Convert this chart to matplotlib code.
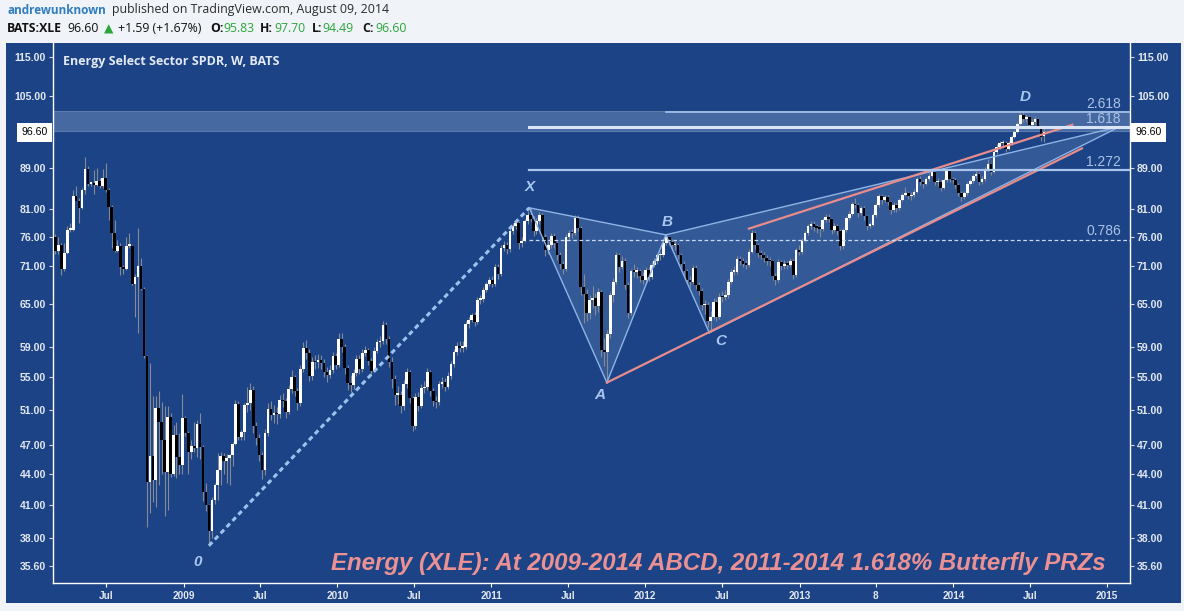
import datetime as dt
import matplotlib
matplotlib.use("Agg")
import matplotlib.pyplot as plt
import matplotlib.dates as mdates
from matplotlib.patches import Rectangle, Polygon
from matplotlib.ticker import FixedLocator, NullLocator, FuncFormatter
from matplotlib.transforms import blended_transform_factory

# weekly bars, first bar = week of 3 Mar 2008
first_week = "2008-03-03"
first_open = 75.9
last_open = 95.83

closes_2008 = [73.5, 74.5, 70.5, 73.1, 77.2, 77.2, 83.4, 82.5, 81.1, 84.6,
               88.8, 85.8, 85.8, 85.6, 86.4, 85.4, 87.0, 84.6, 81.4, 76.7,
               73.5, 74.3, 70.8, 70.5, 74.4, 74.4, 68.2, 69.3, 71.0, 67.4,
               57.7, 43.2, 45.9, 43.4, 51.2, 49.6, 47.6, 44.2, 50.2, 44.0,
               48.1, 45.8, 44.9, 50.1]
highs_2008 = [76.5, 76.0, 74.8, 74.8, 77.9, 78.4, 84.6, 85.3, 83.0, 85.0,
              91.3, 89.5, 86.0, 88.6, 89.0, 87.0, 88.8, 90.0, 84.9, 81.7,
              79.0, 75.4, 74.9, 71.2, 76.0, 76.6, 74.6, 69.8, 77.6, 72.3,
              67.6, 57.9, 56.8, 52.6, 52.6, 53.2, 51.9, 51.4, 51.4, 50.6,
              49.2, 49.6, 48.3, 52.9]
lows_2008 = [73.0, 73.0, 69.5, 70.2, 73.0, 76.8, 77.0, 82.7, 78.4, 81.0,
             83.8, 85.3, 85.3, 83.8, 85.3, 85.0, 85.0, 84.3, 79.0, 74.0,
             73.3, 73.3, 69.5, 69.8, 70.4, 74.0, 68.0, 63.2, 60.8, 67.2,
             57.5, 38.9, 40.2, 41.2, 40.8, 42.9, 44.0, 39.9, 40.5, 43.7,
             43.8, 43.6, 44.0, 44.0]

closes_2009 = [48.4, 46.3, 46.9, 46.7, 49.4, 46.8, 42.2, 41.0, 38.6, 41.4,
               42.9, 44.4, 45.9, 45.3, 45.6, 46.0, 47.1, 51.7, 47.9, 48.5,
               51.6, 51.8, 53.4, 49.1, 47.8, 46.0, 44.4, 48.3, 51.1, 50.4,
               50.6, 50.5, 52.2, 52.0, 50.8, 53.5, 55.0, 53.3, 51.8, 56.0,
               58.8, 58.1, 55.1, 57.0, 56.9, 57.2, 56.8, 55.7, 55.3, 55.9,
               57.7, 56.6]
highs_2009 = [50.3, 48.6, 47.6, 49.6, 49.8, 50.6, 47.0, 43.1, 41.1, 41.7,
              43.1, 46.2, 46.3, 46.2, 46.1, 46.1, 47.4, 52.2, 52.0, 48.7,
              51.8, 53.8, 54.3, 53.9, 49.6, 48.2, 46.3, 48.8, 51.8, 52.0,
              51.6, 51.3, 52.8, 53.0, 52.4, 54.0, 55.9, 55.3, 53.6, 56.5,
              59.6, 59.9, 58.6, 57.6, 57.9, 58.0, 57.8, 57.3, 56.3, 56.6,
              58.2, 58.1]
lows_2009 = [48.0, 44.0, 45.5, 46.3, 45.8, 45.5, 41.3, 40.4, 37.3, 38.0,
             41.1, 41.4, 42.9, 44.0, 43.1, 42.9, 44.8, 47.0, 47.6, 47.6,
             47.6, 50.7, 51.0, 48.3, 47.0, 45.3, 43.5, 43.9, 48.0, 49.8,
             49.5, 49.4, 50.0, 51.3, 50.1, 50.5, 53.0, 52.6, 51.0, 51.4,
             55.6, 57.3, 54.5, 54.6, 56.0, 56.2, 56.0, 55.0, 54.4, 54.9,
             55.5, 56.0]

closes_2010 = [60.1, 59.0, 56.1, 54.3, 54.0, 55.5, 57.3, 56.0, 58.1, 58.5,
               57.1, 55.8, 58.4, 59.6, 59.7, 62.0, 60.0, 57.0, 54.8, 52.8,
               52.8, 51.4, 54.1, 55.6, 52.4, 49.1, 52.5, 51.5, 53.6, 53.8,
               55.6, 53.2, 52.1, 51.9, 54.1, 54.4, 53.8, 55.1, 56.7, 58.2,
               59.1, 58.8, 59.0, 62.1, 62.7, 63.4, 62.4, 65.7, 65.8, 67.2,
               68.1, 68.8]
highs_2010 = [60.8, 60.9, 59.4, 56.6, 55.2, 56.0, 57.8, 57.9, 58.6, 59.1,
              58.8, 57.5, 58.9, 60.1, 60.4, 62.6, 62.4, 60.4, 57.6, 55.3,
              53.9, 53.3, 54.6, 56.1, 55.9, 52.7, 53.0, 53.1, 54.1, 54.5,
              56.1, 55.9, 53.6, 52.7, 54.5, 55.0, 54.9, 55.6, 57.1, 58.6,
              59.6, 59.7, 59.8, 62.5, 63.2, 63.8, 63.9, 66.1, 66.4, 67.7,
              68.5, 69.3]
lows_2010 = [56.3, 58.3, 55.4, 53.4, 53.1, 53.5, 55.1, 55.4, 55.7, 57.7,
             56.6, 55.2, 55.6, 58.1, 59.0, 59.4, 59.4, 56.3, 53.6, 51.6,
             51.7, 50.6, 51.0, 53.6, 51.8, 48.6, 48.8, 50.9, 51.2, 53.0,
             53.4, 52.7, 51.5, 51.2, 51.6, 53.6, 53.2, 53.5, 54.8, 56.3,
             57.9, 58.2, 58.3, 58.7, 61.6, 62.4, 61.8, 62.1, 65.0, 65.4,
             66.9, 67.8]

closes_2011 = [68.1, 70.9, 69.7, 74.0, 74.6, 73.8, 76.9, 77.8, 78.4, 74.9,
               75.3, 78.7, 79.9, 79.2, 76.9, 78.7, 79.9, 76.0, 73.7, 74.6,
               76.1, 74.9, 72.8, 71.4, 70.5, 76.0, 76.7, 76.6, 79.4, 77.6,
               67.7, 66.6, 63.8, 65.7, 66.0, 64.8, 66.9, 58.5, 58.3, 60.7,
               66.4, 68.5, 72.8, 70.9, 71.9, 68.0, 63.7, 70.2, 70.1, 70.2,
               69.4, 68.8]
highs_2011 = [69.4, 71.3, 71.4, 74.5, 75.3, 75.0, 77.4, 78.4, 79.1, 78.8,
              76.0, 79.2, 80.6, 81.2, 79.7, 79.3, 80.5, 80.2, 76.5, 75.3,
              76.6, 76.6, 75.3, 73.3, 71.8, 76.5, 77.2, 77.4, 79.9, 79.8,
              77.8, 69.8, 67.4, 66.5, 67.8, 66.8, 67.5, 67.2, 60.2, 61.3,
              66.9, 69.1, 73.4, 73.1, 72.7, 72.3, 68.4, 70.6, 71.3, 70.9,
              70.6, 70.0]
lows_2011 = [67.6, 67.9, 69.0, 69.4, 73.5, 73.0, 73.4, 76.5, 77.3, 73.9,
             74.2, 75.0, 78.2, 78.5, 76.1, 76.5, 78.2, 75.3, 72.6, 73.0,
             74.0, 74.1, 72.0, 70.6, 69.8, 70.2, 75.5, 75.8, 76.3, 76.9,
             66.5, 62.3, 62.6, 62.8, 64.5, 63.4, 63.9, 57.6, 56.4, 54.3,
             60.2, 65.3, 68.1, 70.1, 70.5, 67.3, 63.0, 63.4, 69.3, 69.1,
             68.4, 68.1]

closes_2012 = [70.3, 69.2, 71.2, 71.8, 72.8, 72.8, 74.8, 76.0, 75.1, 74.5,
               74.5, 72.8, 71.4, 70.2, 68.8, 68.5, 70.7, 68.0, 67.1, 64.9,
               64.9, 62.5, 63.2, 65.4, 63.2, 66.2, 66.1, 66.4, 68.5, 70.1,
               70.1, 72.1, 71.8, 71.4, 71.2, 73.4, 76.6, 74.5, 73.2, 72.8,
               72.3, 71.9, 71.8, 69.4, 68.7, 71.6, 71.0, 71.4, 71.2, 71.8,
               69.6, 73.7]
highs_2012 = [70.8, 70.9, 71.6, 72.4, 73.2, 73.5, 75.2, 76.3, 76.1, 75.6,
              75.2, 74.9, 73.2, 71.9, 70.6, 69.4, 71.2, 71.1, 68.4, 67.5,
              65.7, 65.3, 64.0, 65.9, 65.8, 66.7, 67.0, 67.2, 69.0, 70.6,
              71.0, 72.6, 72.7, 72.3, 72.0, 73.9, 77.2, 76.9, 74.8, 73.7,
              73.3, 72.9, 72.5, 72.0, 69.9, 72.1, 72.0, 72.0, 71.9, 72.3,
              72.1, 74.1]
lows_2012 = [68.5, 68.6, 68.9, 70.8, 71.3, 72.0, 72.5, 74.5, 74.6, 73.9,
             73.6, 72.2, 70.8, 69.6, 68.2, 67.7, 68.1, 67.4, 66.4, 64.2,
             63.6, 61.7, 61.0, 62.8, 62.6, 62.9, 65.4, 65.6, 66.0, 68.1,
             69.5, 69.7, 71.1, 70.8, 70.5, 70.9, 73.1, 73.9, 72.5, 72.1,
             71.6, 71.2, 71.0, 68.8, 68.0, 68.4, 70.3, 70.6, 70.5, 70.9,
             69.0, 69.3]

closes_2013 = [73.4, 75.3, 76.6, 77.9, 78.3, 77.7, 77.6, 77.4, 78.9, 79.5,
               79.1, 77.1, 77.9, 77.0, 74.3, 77.1, 79.3, 80.1, 81.9, 81.7,
               80.2, 81.1, 79.6, 77.9, 78.1, 79.8, 81.7, 83.5, 82.6, 83.2,
               82.2, 80.8, 81.7, 81.1, 82.7, 83.7, 84.0, 83.4, 83.7, 84.2,
               86.7, 86.1, 85.8, 86.7, 87.4, 88.1, 86.1, 86.1, 85.0, 86.5,
               88.3, 86.7]
highs_2013 = [74.5, 75.8, 77.0, 78.3, 78.8, 78.7, 78.3, 78.1, 79.3, 80.0,
              80.0, 79.4, 78.4, 78.3, 77.3, 77.5, 79.7, 80.6, 82.3, 83.0,
              82.1, 81.6, 81.5, 79.9, 78.6, 80.2, 82.1, 83.9, 83.9, 83.7,
              83.6, 82.5, 82.2, 82.1, 83.1, 84.1, 85.2, 84.4, 84.2, 84.8,
              87.1, 87.3, 86.6, 87.2, 87.9, 88.5, 88.4, 86.9, 86.5, 86.9,
              88.7, 88.5]
lows_2013 = [72.8, 73.0, 75.0, 76.3, 77.4, 77.0, 76.7, 75.9, 77.0, 78.5,
             78.5, 76.5, 76.8, 76.2, 73.6, 73.9, 76.8, 79.0, 79.8, 81.1,
             79.5, 79.8, 79.0, 77.2, 77.5, 77.8, 79.5, 81.4, 82.0, 82.2,
             81.7, 80.1, 80.4, 80.5, 80.8, 82.4, 83.5, 82.9, 82.6, 83.3,
             84.0, 85.6, 85.0, 85.6, 86.4, 87.1, 85.5, 85.4, 84.4, 84.7,
             86.2, 86.1]

closes_2014 = [86.5, 85.6, 84.0, 83.2, 84.0, 85.8, 86.3, 87.4, 87.8, 86.1,
               86.7, 88.7, 89.9, 88.1, 92.4, 93.5, 94.2, 94.2, 92.9, 94.2,
               95.5, 96.6, 98.5, 100.6, 99.6, 100.0, 98.2, 98.9, 99.6, 98.1,
               95.5, 96.6]
highs_2014 = [87.2, 86.9, 85.9, 84.4, 84.5, 86.2, 86.8, 87.8, 88.3, 88.1,
              87.3, 89.1, 90.8, 90.1, 92.9, 94.0, 94.8, 95.0, 94.6, 94.7,
              96.0, 97.1, 99.0, 101.3, 101.5, 100.8, 100.4, 99.6, 100.2, 99.9,
              98.3, 97.7]
lows_2014 = [85.9, 85.0, 83.4, 82.5, 82.9, 83.7, 85.5, 86.0, 87.0, 85.6,
             85.8, 86.4, 88.4, 87.5, 87.9, 92.0, 93.0, 93.6, 92.3, 92.7,
             93.9, 95.3, 96.4, 98.3, 99.0, 99.0, 97.5, 97.9, 98.4, 97.5,
             94.8, 94.49]

# pattern pivots (date, price)
pivot_0 = ("2009-03-02", 37.3)
pivot_x = ("2011-04-01", 81.2)
pivot_a = ("2011-10-02", 54.3)
pivot_b = ("2012-02-19", 76.3)
pivot_c = ("2012-06-01", 60.9)
pivot_d = ("2015-01-31", 97.9)
upper_trend = [("2012-09-03", 77.4), ("2014-10-10", 98.3)]
lower_trend = [pivot_a, ("2014-11-02", 93.1)]
band = (96.9, 101.5)

y_ticks = [35.6, 38, 41, 44, 47, 51, 55, 59, 65, 71, 76, 81, 89, 105, 115]
x_tick_dates = ["2008-07-01", "2009-01-01", "2009-07-01", "2010-01-01", "2010-07-01",
                "2011-01-01", "2011-07-01", "2012-01-01", "2012-07-01", "2013-01-01",
                "2013-07-01", "2014-01-01", "2014-07-01", "2015-01-01"]
x_tick_labels = ["Jul", "2009", "Jul", "2010", "Jul", "2011", "Jul", "2012", "Jul",
                 "2013", "8", "2014", "Jul", "2015"]
last_price = 96.60

W, H = 1184, 611
BG = "#f0f3f7"
PANEL = "#1c4385"
plt.rcParams["font.family"] = ["Liberation Sans", "DejaVu Sans"]


def fx(px):
    return px / W


def fy(py):
    return 1 - py / H


def dnum(s):
    return mdates.date2num(dt.date.fromisoformat(s))


closes = closes_2008 + closes_2009 + closes_2010 + closes_2011 + closes_2012 + closes_2013 + closes_2014
highs = highs_2008 + highs_2009 + highs_2010 + highs_2011 + highs_2012 + highs_2013 + highs_2014
lows = lows_2008 + lows_2009 + lows_2010 + lows_2011 + lows_2012 + lows_2013 + lows_2014
opens = [first_open] + closes[:-1]
opens[-1] = last_open
start = dt.date.fromisoformat(first_week)
xs = [mdates.date2num(start + dt.timedelta(weeks=i)) for i in range(len(closes))]

fig = plt.figure(figsize=(W / 100, H / 100), dpi=100, facecolor=BG)
fig.patches.append(Rectangle((fx(6), fy(603)), fx(1181) - fx(6), fy(43) - fy(603),
                             transform=fig.transFigure, facecolor=PANEL, edgecolor="none", zorder=-5))
ax = fig.add_axes([fx(53), fy(583), fx(1130) - fx(53), fy(43) - fy(583)], facecolor=PANEL)
ax.set_zorder(2)
ax.set_yscale("log")
ax.set_ylim(34.23, 118.67)
ax.set_xlim(xs[0] - 5.9, xs[-1] + 204)

# candles
ax.vlines(xs, lows, highs, color="#858a94", lw=0.8, zorder=3)
bottoms = [min(o, c) for o, c in zip(opens, closes)]
heights = [max(abs(c - o), 0.0035 * c) for o, c in zip(opens, closes)]
colors = ["white" if c >= o else "black" for o, c in zip(opens, closes)]
ax.bar(xs, heights, bottom=bottoms, width=6.3, color=colors, linewidth=0, zorder=4)

# harmonic pattern
P = {k: (dnum(v[0]), v[1]) for k, v in
     {"0": pivot_0, "X": pivot_x, "A": pivot_a, "B": pivot_b, "C": pivot_c, "D": pivot_d}.items()}
fill_kw = dict(facecolor="#a9c8f2", alpha=0.17, edgecolor="none", zorder=2)
ax.add_patch(Polygon([P["X"], P["A"], P["B"]], **fill_kw))
ax.add_patch(Polygon([P["B"], P["C"], P["D"]], **fill_kw))
line_kw = dict(color="#8fb4e6", lw=1.0, zorder=5)
for a, b in [("X", "A"), ("A", "B"), ("X", "B"), ("B", "C"), ("C", "D"), ("B", "D")]:
    ax.plot([P[a][0], P[b][0]], [P[a][1], P[b][1]], **line_kw)
ax.plot([P["0"][0], P["X"][0]], [P["0"][1], P["X"][1]], color="#9cc2ee", lw=2.2,
        ls=(0, (1.6, 1.2)), solid_capstyle="butt", zorder=5)

# trendlines
for seg in (upper_trend, lower_trend):
    ax.plot([dnum(seg[0][0]), dnum(seg[1][0])], [seg[0][1], seg[1][1]],
            color="#e88c8c", lw=1.6, zorder=5)

# fib levels
xa = P["X"][1] - P["A"][1]
lvl_0786 = P["A"][1] + 0.786 * xa
lvl_1272 = P["A"][1] + 1.272 * xa
lvl_1618 = P["A"][1] + 1.618 * xa
lvl_2618 = P["C"][1] + 2.618 * (P["B"][1] - P["C"][1])
x_end = ax.get_xlim()[1]
ax.axhspan(band[0], band[1], facecolor="#b5cdf0", alpha=0.28, edgecolor="#c9daf3", lw=0.8, zorder=1)
ax.plot([P["X"][0], x_end], [lvl_0786, lvl_0786], color="#c9d9f2", lw=0.9, ls=(0, (3, 2)), zorder=5)
ax.plot([P["X"][0], x_end], [lvl_1272, lvl_1272], color="#a9c5ec", lw=1.6, zorder=5)
ax.plot([P["X"][0], x_end], [lvl_1618, lvl_1618], color="#d9e5f7", lw=2.2, zorder=5)
ax.plot([P["B"][0], x_end], [lvl_2618, lvl_2618], color="#a9c5ec", lw=1.2, zorder=5)
lbl_tr = blended_transform_factory(ax.transAxes, ax.transData)
for txt, lv in [("2.618", lvl_2618), ("1.618", lvl_1618), ("1.272", lvl_1272), ("0.786", lvl_0786)]:
    ax.annotate(txt, xy=(0.9916, lv), xycoords=lbl_tr, xytext=(0, 1), textcoords="offset points",
                ha="right", va="bottom", fontsize=10, color="#a9c3e6", zorder=6)

# pivot labels
lab_kw = dict(textcoords="offset points", ha="center", va="center", fontsize=11,
              fontstyle="italic", fontweight="bold", color="#a7c7f0", zorder=6)
ax.annotate("X", xy=P["X"], xytext=(0, 15), **lab_kw)
ax.annotate("A", xy=P["A"], xytext=(-5, -9), **lab_kw)
ax.annotate("B", xy=P["B"], xytext=(1, 9), **lab_kw)
ax.annotate("C", xy=P["C"], xytext=(8, -6), **lab_kw)
ax.annotate("0", xy=P["0"], xytext=(-8, -12), **lab_kw)
ax.annotate("D", xy=(dnum("2014-06-20"), 104.8), xytext=(0, 0), **lab_kw)

ax.text((1106 - 53) / 1077, 0.037, "Energy (XLE): At 2009-2014 ABCD, 2011-2014 1.618% Butterfly PRZs",
        transform=ax.transAxes, ha="right", va="center", fontsize=17.3, fontstyle="italic",
        fontweight="bold", color="#ec9193", zorder=7)

# axes styling
for side in ("left", "right", "bottom"):
    ax.spines[side].set_color("white")
    ax.spines[side].set_linewidth(1.0)
ax.spines["top"].set_visible(False)
ax.yaxis.set_major_locator(FixedLocator(y_ticks))
ax.yaxis.set_minor_locator(NullLocator())
ax.yaxis.set_major_formatter(FuncFormatter(lambda v, p: "%.2f" % v))
ax.tick_params(axis="y", which="major", left=True, right=True, labelleft=True, labelright=True,
               labelsize=7.6, labelcolor="#e3e8f1", color="#d8d0e0", length=3, width=0.8, pad=2)
ax.set_xticks([dnum(d) for d in x_tick_dates])
ax.set_xticklabels(x_tick_labels)
ax.tick_params(axis="x", labelsize=7.2, labelcolor="#e3e8f1", color="white", length=3, width=0.8, pad=3)
for lab in ax.get_xticklabels() + ax.get_yticklabels():
    lab.set_fontweight("bold")

box = dict(boxstyle="square,pad=0.4", facecolor="white", edgecolor="none")
ax.text(-0.005, last_price, "%.2f" % last_price, transform=lbl_tr, ha="right", va="center",
        fontsize=7.6, color="black", bbox=box, zorder=8, clip_on=False)
ax.text(1.005, last_price, "%.2f" % last_price, transform=lbl_tr, ha="left", va="center",
        fontsize=7.6, color="black", bbox=box, zorder=8, clip_on=False)

# chart title and header
hdr = ["Open Sans", "DejaVu Sans"]
fig.text(fx(63), fy(61), "Energy Select Sector SPDR, W, BATS", ha="left", va="center",
         fontsize=9, fontweight="bold", color="#e3e9f3", family=hdr, zorder=5)
green = "#2aa63a"
fig.text(fx(7), fy(10), "andrewunknown", ha="left", va="center", fontsize=8.5,
         fontweight="bold", color="#2f7cc0", family=hdr)
fig.text(fx(112), fy(10), "published on TradingView.com, August 09, 2014", ha="left",
         va="center", fontsize=8.9, color="#2b2b2b", family=hdr)
row2 = [(7, "BATS:XLE", "#111111", "bold"), (67, "96.60", "#111111", "normal"),
        (104, "\u25b2", green, "normal"), (118, "+1.59 (+1.67%)", "#111111", "normal"),
        (210, "O:", "#111111", "bold"), (223, "95.83", green, "normal"),
        (260, "H:", "#111111", "bold"), (274, "97.70", green, "normal"),
        (312, "L:", "#111111", "bold"), (322, "94.49", green, "normal"),
        (362, "C:", "#111111", "bold"), (375, "96.60", green, "normal")]
for px, txt, col, wt in row2:
    fig.text(fx(px), fy(29), txt, ha="left", va="center", fontsize=8.8, color=col,
             fontweight=wt, family=hdr)

fig.savefig("out.png", dpi=100, facecolor=BG)
